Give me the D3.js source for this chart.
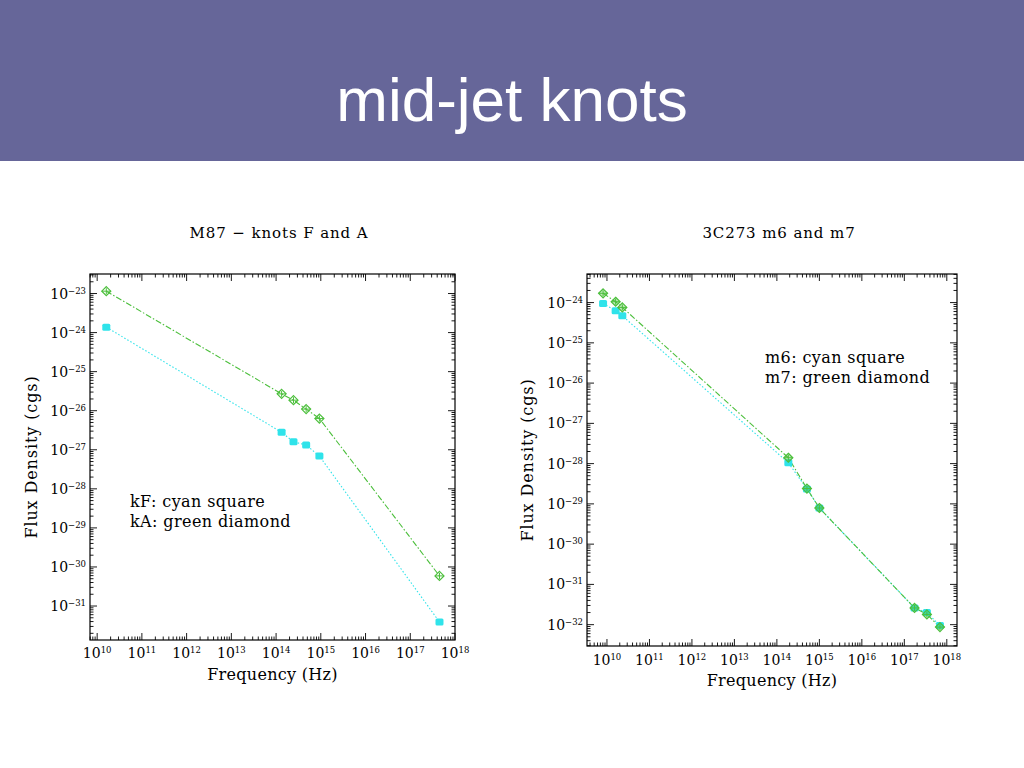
<!DOCTYPE html>
<html>
<head>
<meta charset="utf-8">
<script src="https://cdn.jsdelivr.net/npm/d3@7"></script>
<style>
  body { margin: 0; background: #fff; }
  svg { display: block; }
</style>
</head>
<body>
<div id="slide"></div>
<script>
// 1: DATA
const m87Freq = [1.6e10, 1.33e14, 2.45e14, 4.7e14, 9.3e14, 4.5e17];
const kfFlux = [1.38e-24, 2.8e-27, 1.6e-27, 1.32e-27, 6.9e-28, 3.9e-32];   // cyan square
const kaFlux = [1.15e-23, 2.7e-26, 1.86e-26, 1.1e-26, 6.3e-27, 5.9e-31];   // green diamond

const c273Freq = [8.1e9, 1.6e10, 2.3e10, 1.86e14, 5.1e14, 1.0e15, 1.74e17, 3.4e17, 6.9e17];
const m6Flux = [9.5e-25, 6.3e-25, 4.7e-25, 1.05e-28, 2.35e-29, 7.9e-30, 2.6e-32, 2.0e-32, 9.5e-33];
const m7Flux = [1.7e-24, 1.05e-24, 7.6e-25, 1.4e-28, 2.4e-29, 7.9e-30, 2.6e-32, 1.8e-32, 8.7e-33];

const xDecades = [10, 11, 12, 13, 14, 15, 16, 17, 18];
const m87YDecades = [-23, -24, -25, -26, -27, -28, -29, -30, -31];
const c273YDecades = [-24, -25, -26, -27, -28, -29, -30, -31, -32];

// 2: SVG
const svg = d3.select("#slide")
    .append("svg")
    .attr("width", 1024)
    .attr("height", 768);

svg.append("rect")
    .attr("x", 0).attr("y", 0)
    .attr("width", 1024).attr("height", 161)
    .attr("fill", "#666699");

svg.append("text")
    .attr("x", 512)
    .attr("y", 121)
    .attr("text-anchor", "middle")
    .attr("fill", "#fff")
    .style("font-family", "'Liberation Sans', Arial, sans-serif")
    .style("font-size", "62px")
    .text("mid-jet knots");

const serif = "'DejaVu Serif', 'Liberation Serif', serif";
const green = "#4cbf3c";
const cyan = "#2fe3ea";

function drawPanel(p) {
    const g = svg.append("g");
    const x = d3.scaleLog().domain(p.xDomain).range([p.left, p.right]);
    const y = d3.scaleLog().domain(p.yDomain).range([p.bottom, p.top]);

    // frame
    g.append("rect")
        .attr("x", p.left).attr("y", p.top)
        .attr("width", p.right - p.left).attr("height", p.bottom - p.top)
        .attr("fill", "none").attr("stroke", "#000").attr("stroke-width", 1.2);

    // log ticks on all four sides
    const xd = x.domain(), yd = y.domain();
    const xTicks = [], yTicks = [];
    for (let e = Math.floor(Math.log10(xd[0])); e <= Math.ceil(Math.log10(xd[1])); e++) {
        for (let m = 1; m <= 9; m++) {
            const v = m * Math.pow(10, e);
            if (v >= xd[0] && v <= xd[1]) xTicks.push({ v, major: m === 1 });
        }
    }
    for (let e = Math.floor(Math.log10(yd[0])); e <= Math.ceil(Math.log10(yd[1])); e++) {
        for (let m = 1; m <= 9; m++) {
            const v = m * Math.pow(10, e);
            if (v >= yd[0] && v <= yd[1]) yTicks.push({ v, major: m === 1 });
        }
    }
    xTicks.forEach(t => {
        const len = t.major ? 7 : 3.5;
        const px = x(t.v);
        g.append("line").attr("x1", px).attr("x2", px).attr("y1", p.bottom).attr("y2", p.bottom - len);
        g.append("line").attr("x1", px).attr("x2", px).attr("y1", p.top).attr("y2", p.top + len);
    });
    yTicks.forEach(t => {
        const len = t.major ? 7 : 3.5;
        const py = y(t.v);
        g.append("line").attr("x1", p.left).attr("x2", p.left + len).attr("y1", py).attr("y2", py);
        g.append("line").attr("x1", p.right).attr("x2", p.right - len).attr("y1", py).attr("y2", py);
    });
    g.selectAll("line").attr("stroke", "#000").attr("stroke-width", 0.9);

    // tick labels
    xDecades.forEach(e => {
        const t = g.append("text")
            .attr("x", x(Math.pow(10, e)))
            .attr("y", p.bottom + p.xLabelOffset)
            .attr("text-anchor", "middle")
            .style("font-family", serif)
            .style("font-size", "14px");
        t.append("tspan").text("10");
        t.append("tspan").attr("dy", -5).style("font-size", "8.5px").text(e);
    });
    p.yDecades.forEach(e => {
        const t = g.append("text")
            .attr("x", p.left - 4)
            .attr("y", y(Math.pow(10, e)) + 5)
            .attr("text-anchor", "end")
            .style("font-family", serif)
            .style("font-size", "14px");
        t.append("tspan").text("10");
        t.append("tspan").attr("dy", -5).style("font-size", "8.5px").text("\u2212" + Math.abs(e));
    });

    // titles
    g.append("text")
        .attr("x", p.titleX)
        .attr("y", 238)
        .attr("text-anchor", "middle")
        .style("font-family", serif)
        .style("font-size", "15px")
        .style("letter-spacing", "0.9px")
        .text(p.title);

    g.append("text")
        .attr("x", (p.left + p.right) / 2)
        .attr("y", p.bottom + p.xTitleOffset)
        .attr("text-anchor", "middle")
        .style("font-family", serif)
        .style("font-size", "16px")
        .style("letter-spacing", "0.3px")
        .text("Frequency (Hz)");

    g.append("text")
        .attr("transform", `translate(${p.yTitleX},${(p.top + p.bottom) / 2}) rotate(-90)`)
        .attr("text-anchor", "middle")
        .style("font-family", serif)
        .style("font-size", "16px")
        .style("letter-spacing", "0.9px")
        .text("Flux Density (cgs)");

    // legend
    p.legend.forEach((s, i) => {
        g.append("text")
            .attr("x", p.legendX)
            .attr("y", p.legendY + i * 19.5)
            .style("font-family", serif)
            .style("font-size", "16px")
            .style("letter-spacing", "0.4px")
            .text(s);
    });

    // series
    const line = d3.line().x(d => x(d[0])).y(d => y(d[1]));
    const cyanPts = p.freq.map((f, i) => [f, p.cyan[i]]);
    const greenPts = p.freq.map((f, i) => [f, p.green[i]]);

    g.append("path").datum(cyanPts)
        .attr("d", line).attr("fill", "none")
        .attr("stroke", cyan).attr("stroke-width", 1.1)
        .attr("stroke-dasharray", "1.5,2");
    g.append("path").datum(greenPts)
        .attr("d", line).attr("fill", "none")
        .attr("stroke", green).attr("stroke-width", 1.1)
        .attr("stroke-dasharray", "6,2,1.5,2");

    g.selectAll(".sq").data(cyanPts).join("rect")
        .attr("x", d => x(d[0]) - 4)
        .attr("y", d => y(d[1]) - 3.5)
        .attr("width", 8).attr("height", 7)
        .attr("rx", 1.5)
        .attr("fill", cyan);

    const dia = g.selectAll(".dia").data(greenPts).join("g")
        .attr("transform", d => `translate(${x(d[0])},${y(d[1])})`);
    dia.append("path")
        .attr("d", "M0,-4.5L4.5,0L0,4.5L-4.5,0Z")
        .attr("fill", p.filledDiamond ? "rgba(76,191,60,0.35)" : "none")
        .attr("stroke", green).attr("stroke-width", 1.2);
    dia.append("path")
        .attr("d", "M-4.5,0H4.5M0,-3V3")
        .attr("stroke", green).attr("stroke-width", 1);
}

drawPanel({
    left: 90, right: 455, top: 274, bottom: 640,
    xDomain: [Math.pow(10, 9.84), 1e18],
    yDomain: [Math.pow(10, -31.87), Math.pow(10, -22.5)],
    yDecades: m87YDecades,
    title: "M87 \u2212 knots F and A", titleX: 279,
    freq: m87Freq, cyan: kfFlux, green: kaFlux,
    legend: ["kF: cyan square", "kA: green diamond"],
    legendX: 130, legendY: 507,
    xLabelOffset: 18, xTitleOffset: 40, yTitleX: 37,
    filledDiamond: false
});

drawPanel({
    left: 587, right: 957, top: 274, bottom: 646,
    xDomain: [Math.pow(10, 9.53), Math.pow(10, 18.24)],
    yDomain: [Math.pow(10, -32.53), Math.pow(10, -23.29)],
    yDecades: c273YDecades,
    title: "3C273 m6 and m7", titleX: 779,
    freq: c273Freq, cyan: m6Flux, green: m7Flux,
    legend: ["m6: cyan square", "m7: green diamond"],
    legendX: 765, legendY: 363,
    xLabelOffset: 19, xTitleOffset: 40, yTitleX: 533,
    filledDiamond: true
});
</script>
</body>
</html>
